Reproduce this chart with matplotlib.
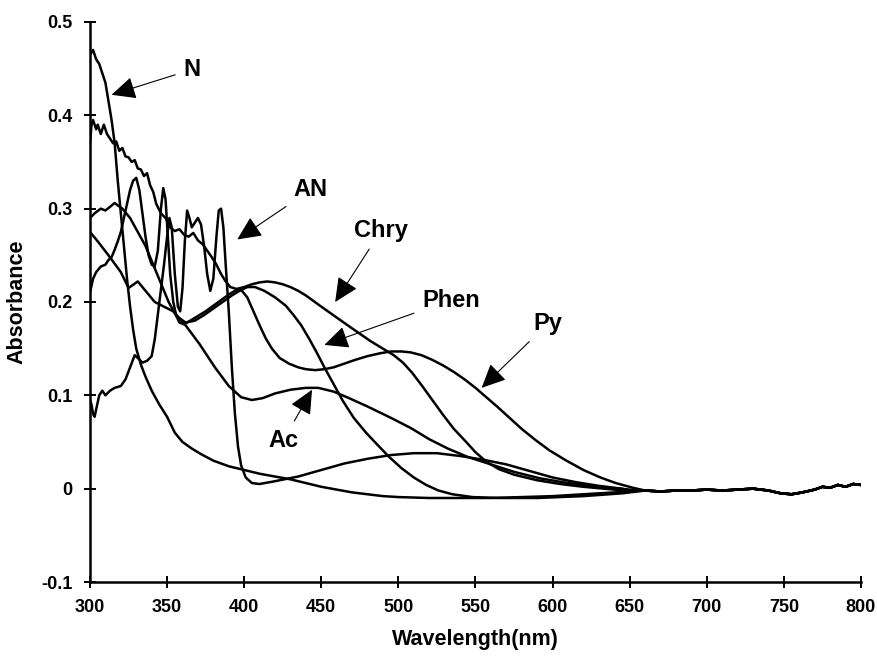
import matplotlib
matplotlib.use("Agg")
import matplotlib.pyplot as plt

plt.rcParams['font.family'] = ['Liberation Sans', 'DejaVu Sans']
plt.rcParams['font.weight'] = 'bold'
plt.rcParams['axes.labelweight'] = 'bold'

# shared noisy baseline beyond 650 nm
tail_wl = [660, 670, 680, 690, 700, 710, 720, 730, 740, 748, 755, 762, 770, 775, 780, 785, 790, 795, 800]
tail_abs = [-0.002, -0.003, -0.002, -0.002, -0.001, -0.002, -0.001, 0.0, -0.002, -0.005, -0.006, -0.004,
            -0.001, 0.002, 0.001, 0.004, 0.002, 0.005, 0.004]

n_wl = [300, 302, 304, 306, 308, 310, 312, 314, 316, 318, 320, 322, 324, 326, 328, 330, 333, 336, 340, 345,
        350, 355, 360, 366, 372, 380, 390, 400, 410, 420, 430, 440, 450, 460, 470, 480, 490, 500, 520, 540,
        560, 580, 600, 620, 640, 650]
n_abs = [0.465, 0.47, 0.46, 0.455, 0.445, 0.435, 0.415, 0.395, 0.37, 0.33, 0.295, 0.26, 0.225, 0.195, 0.17,
         0.15, 0.133, 0.12, 0.105, 0.09, 0.077, 0.06, 0.05, 0.043, 0.037, 0.03, 0.024, 0.02, 0.016, 0.013,
         0.01, 0.006, 0.002, -0.001, -0.004, -0.006, -0.008, -0.009, -0.01, -0.01, -0.01, -0.009, -0.008,
         -0.006, -0.004, -0.003]

an_wl = [300, 301, 302, 303, 304, 306, 308, 310, 313, 316, 320, 323, 326, 329, 331, 334, 337, 340, 342, 345,
         348, 350, 351.5, 353, 355, 357, 358.5, 360, 361.5, 363, 364.5, 366, 368, 370, 372, 374, 376, 378,
         380, 382, 383.5, 385, 386.5, 388, 390, 392, 394, 396, 398, 401, 405, 410, 420, 435, 450, 465, 480,
         495, 510, 525, 540, 555, 570, 585, 600, 615, 630, 645, 650]
an_abs = [0.095, 0.09, 0.08, 0.077, 0.085, 0.1, 0.105, 0.1, 0.105, 0.108, 0.11, 0.117, 0.13, 0.143, 0.14,
          0.135, 0.137, 0.142, 0.16, 0.2, 0.24, 0.27, 0.29, 0.28, 0.23, 0.195, 0.19, 0.215, 0.265, 0.298,
          0.29, 0.28, 0.285, 0.29, 0.283, 0.26, 0.23, 0.212, 0.225, 0.27, 0.298, 0.3, 0.28, 0.24, 0.19, 0.13,
          0.08, 0.045, 0.025, 0.012, 0.006, 0.005, 0.008, 0.013, 0.02, 0.027, 0.032, 0.036, 0.038, 0.038,
          0.035, 0.031, 0.026, 0.019, 0.012, 0.007, 0.003, 0.0, -0.002]

chry_wl = [300, 301, 302, 304, 305, 307, 309, 311, 313, 315, 317, 319, 321, 323, 325, 327, 329, 331, 333,
           335, 337, 339, 341, 343, 346, 349, 352, 355, 358, 361, 364, 367, 370, 373, 376, 379, 382, 385,
           388, 391, 395, 400, 405, 410, 415, 420, 425, 430, 435, 440, 445, 450, 456, 462, 468, 475, 482,
           490, 497, 503, 509, 515, 522, 529, 536, 544, 550, 557, 565, 575, 590, 605, 620, 640, 650]
chry_abs = [0.37, 0.39, 0.395, 0.385, 0.39, 0.38, 0.39, 0.38, 0.375, 0.37, 0.372, 0.362, 0.365, 0.356,
            0.355, 0.35, 0.352, 0.343, 0.342, 0.335, 0.338, 0.325, 0.318, 0.305, 0.295, 0.29, 0.28, 0.276,
            0.278, 0.272, 0.27, 0.274, 0.266, 0.262, 0.255, 0.248, 0.24, 0.23, 0.222, 0.216, 0.214, 0.216,
            0.219, 0.221, 0.222, 0.221, 0.219, 0.216, 0.212, 0.207, 0.201, 0.195, 0.188, 0.181, 0.174,
            0.166, 0.158, 0.15, 0.143, 0.135, 0.124, 0.111, 0.095, 0.079, 0.064, 0.05, 0.039, 0.029, 0.021,
            0.015, 0.009, 0.005, 0.002, -0.001, -0.002]

phen_wl = [300, 303, 307, 310, 313, 316, 321, 326, 331, 336, 341, 346, 351, 356, 362, 368, 374, 380, 386,
           392, 397, 402, 407, 413, 420, 427, 432, 437, 442, 447, 452, 458, 464, 471, 479, 487, 494, 502,
           510, 518, 526, 535, 548, 565, 590, 620, 645, 650]
phen_abs = [0.29, 0.295, 0.3, 0.298, 0.302, 0.306, 0.3, 0.29, 0.275, 0.26, 0.24, 0.22, 0.2, 0.185, 0.178,
            0.18, 0.186, 0.193, 0.2, 0.207, 0.212, 0.216, 0.216, 0.212, 0.205, 0.196, 0.186, 0.175, 0.161,
            0.146, 0.13, 0.112, 0.094, 0.076, 0.06, 0.046, 0.034, 0.022, 0.012, 0.004, -0.002, -0.006,
            -0.009, -0.01, -0.01, -0.008, -0.005, -0.004]

py_wl = [300, 302, 304, 307, 310, 312, 314, 316, 318, 320, 322, 324, 326, 328, 330, 332, 334, 336, 338, 340,
         342, 344, 346, 347.5, 349, 350.5, 352, 354, 356, 358, 361, 365, 370, 375, 380, 385, 390, 394, 398,
         402, 406, 410, 414, 418, 423, 429, 435, 440, 446, 452, 458, 465, 472, 480, 488, 495, 502, 508, 515,
         522, 529, 536, 543, 550, 557, 564, 572, 580, 589, 598, 609, 620, 631, 641, 652]
py_abs = [0.21, 0.225, 0.232, 0.238, 0.24, 0.245, 0.248, 0.256, 0.265, 0.275, 0.29, 0.305, 0.32, 0.33,
          0.333, 0.32, 0.295, 0.27, 0.25, 0.24, 0.238, 0.255, 0.3, 0.322, 0.31, 0.27, 0.23, 0.2, 0.185,
          0.178, 0.176, 0.18, 0.185, 0.19, 0.196, 0.202, 0.208, 0.212, 0.213, 0.205, 0.19, 0.175, 0.161,
          0.15, 0.14, 0.134, 0.13, 0.128, 0.127, 0.128, 0.13, 0.134, 0.138, 0.142, 0.145, 0.147, 0.147,
          0.146, 0.143, 0.138, 0.132, 0.125, 0.117, 0.108, 0.098, 0.088, 0.076, 0.064, 0.052, 0.041, 0.03,
          0.02, 0.012, 0.006, 0.001]

ac_wl = [300, 305, 312, 320, 325, 331, 336, 342, 348, 354, 362, 371, 381, 390, 398, 405, 412, 420, 430,
         440, 448, 458, 468, 480, 495, 508, 520, 532, 545, 560, 575, 592, 610, 630, 650]
ac_abs = [0.275, 0.265, 0.25, 0.232, 0.215, 0.222, 0.212, 0.2, 0.195, 0.19, 0.175, 0.155, 0.13, 0.11,
          0.098, 0.095, 0.097, 0.102, 0.106, 0.108, 0.108, 0.104, 0.097, 0.088, 0.076, 0.065, 0.053, 0.043,
          0.034, 0.026, 0.018, 0.011, 0.006, 0.002, -0.001]

curves = [(n_wl, n_abs), (an_wl, an_abs), (chry_wl, chry_abs), (phen_wl, phen_abs), (py_wl, py_abs),
          (ac_wl, ac_abs)]

# label text, text position, arrow tip (data units)
labels = ['N', 'AN', 'Chry', 'Phen', 'Py', 'Ac']
label_pos = [(366, 0.449), (443, 0.32), (489, 0.277), (534, 0.202), (597, 0.177), (425.5, 0.052)]
arrow_tip = [(314, 0.422), (395.5, 0.267), (459, 0.200), (452, 0.154), (554, 0.108), (444, 0.106)]

x_ticks = [300, 350, 400, 450, 500, 550, 600, 650, 700, 750, 800]
y_ticks = [-0.1, 0, 0.1, 0.2, 0.3, 0.4, 0.5]
y_ticklabels = ['-0.1', '0', '0.1', '0.2', '0.3', '0.4', '0.5']

fig = plt.figure(figsize=(8.78, 6.56), dpi=100)
ax = fig.add_axes([0.1025, 0.1128, 0.8781, 0.8537])

for wl, ab in curves:
    ax.plot(list(wl) + tail_wl, list(ab) + tail_abs, color='black', lw=1.8)

for txt, pos, tip in zip(labels, label_pos, arrow_tip):
    ax.annotate(txt, xy=tip, xytext=pos, ha='center', va='center', fontsize=17, fontweight='bold',
                arrowprops=dict(arrowstyle='-|>,head_length=0.75,head_width=0.35', mutation_scale=20,
                                color='black', lw=0.8, shrinkA=4, shrinkB=0))

ax.set_xlim(300, 800)
ax.set_ylim(-0.1, 0.5)
ax.set_xticks(x_ticks)
ax.set_yticks(y_ticks)
ax.set_yticklabels(y_ticklabels)
ax.spines['top'].set_visible(False)
ax.spines['right'].set_visible(False)
ax.spines['left'].set_linewidth(1.8)
ax.spines['bottom'].set_linewidth(1.8)
ax.tick_params(direction='inout', length=9, width=1.4, labelsize=13, pad=8)

ax.set_xlabel('Wavelength(nm)', fontsize=15.5, labelpad=9)
ax.set_ylabel('Absorbance', fontsize=15.5, labelpad=10)

fig.savefig('out.png', dpi=100)
